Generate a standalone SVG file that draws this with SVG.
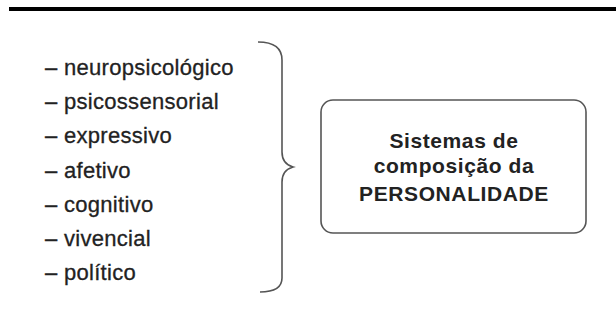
<svg xmlns="http://www.w3.org/2000/svg" width="616" height="322" viewBox="0 0 616 322">
<style>
.item{font-family:"Liberation Sans",Arial,sans-serif;font-size:22px;fill:#222;stroke:#222;stroke-width:0.3;letter-spacing:0.3px;}
.title{font-family:"Liberation Sans",Arial,sans-serif;font-size:21px;font-weight:bold;fill:#222;text-anchor:middle;letter-spacing:0.6px;}
.ln{fill:none;stroke:#555;stroke-width:1.6;}
</style>
<rect x="0" y="0" width="616" height="322" fill="#fff"/>
<rect x="9" y="7" width="607" height="4" fill="#000"/>
<g id="list">
<text class="item" x="45" y="75">– neuropsicológico</text>
<text class="item" x="45" y="109">– psicossensorial</text>
<text class="item" x="45" y="143">– expressivo</text>
<text class="item" x="45" y="177.5">– afetivo</text>
<text class="item" x="45" y="211.5">– cognitivo</text>
<text class="item" x="45" y="246">– vivencial</text>
<text class="item" x="45" y="280">– político</text>
</g>
<g id="connectors">
<path class="ln" d="M258,42 C274,42 282,48 282,60 L282,152 C282,160 286,165 293,167 C286,169 282,174 282,182 L282,278 C282,288 274,292 260,292"/>
</g>
<g id="box">
<rect class="ln" x="321" y="100" width="265" height="133" rx="12" ry="12"/>
<text class="title" x="454" y="148">Sistemas de</text>
<text class="title" x="454" y="173">composição da</text>
<text class="title" x="454" y="201">PERSONALIDADE</text>
</g>
</svg>
